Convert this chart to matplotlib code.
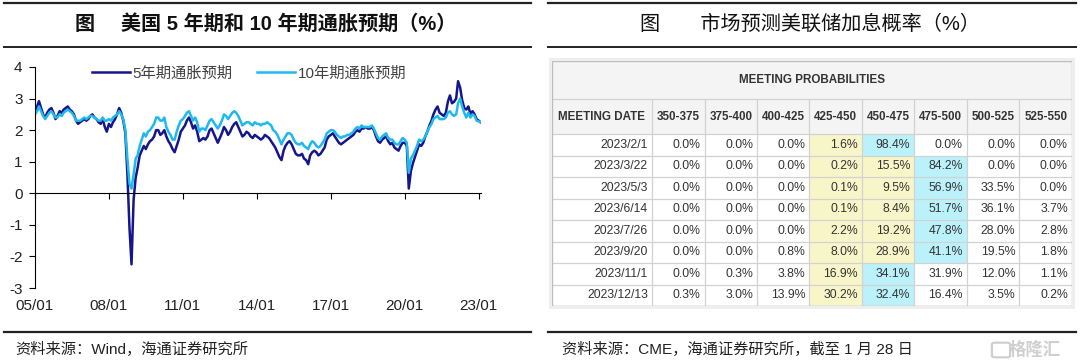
import numpy as np
import pandas as pd
import matplotlib
matplotlib.use('Agg')
import matplotlib.pyplot as plt
import matplotlib.dates as mdates
from matplotlib.patches import Rectangle, FancyBboxPatch
from matplotlib.lines import Line2D

plt.rcParams['font.family'] = ['Liberation Sans', 'Noto Sans CJK SC', 'DejaVu Sans']
plt.rcParams['axes.unicode_minus'] = False

# ---- left chart: US 5y / 10y breakeven inflation (monthly readings, %) ----
be5 = [
    2.60, 2.75, 2.92, 2.70, 2.50, 2.40, 2.55, 2.65, 2.70, 2.55, 2.35, 2.45,  # 2005
    2.60, 2.55, 2.65, 2.70, 2.75, 2.65, 2.60, 2.50, 2.30, 2.20, 2.25, 2.30,  # 2006
    2.35, 2.30, 2.35, 2.45, 2.50, 2.40, 2.35, 2.25, 2.20, 2.35, 2.10, 1.95,  # 2007
    2.20, 2.10, 2.25, 2.35, 2.50, 2.70, 2.55, 2.30, 1.90, 0.60, -1.10, -2.25,  # 2008
    -0.20, 0.50, 0.80, 1.20, 1.35, 1.50, 1.40, 1.55, 1.65, 1.70, 1.80, 2.00,  # 2009
    2.00, 1.85, 1.90, 2.00, 1.80, 1.65, 1.55, 1.40, 1.30, 1.50, 1.70, 1.95,  # 2010
    2.05, 2.15, 2.30, 2.40, 2.25, 2.05, 2.15, 1.95, 1.65, 1.70, 1.75, 1.70,  # 2011
    1.80, 2.00, 2.05, 1.90, 1.75, 1.60, 1.75, 1.90, 2.10, 2.00, 1.85, 1.95,  # 2012
    2.10, 2.20, 2.25, 2.10, 1.95, 1.80, 1.85, 1.95, 1.90, 1.80, 1.75, 1.85,  # 2013
    1.80, 1.75, 1.70, 1.75, 1.85, 1.80, 1.75, 1.65, 1.55, 1.45, 1.30, 1.15,  # 2014
    1.05, 1.35, 1.50, 1.60, 1.65, 1.55, 1.40, 1.25, 1.20, 1.20, 1.25, 1.10,  # 2015
    1.05, 0.92, 1.20, 1.30, 1.35, 1.30, 1.20, 1.25, 1.35, 1.45, 1.70, 1.80,  # 2016
    1.85, 1.90, 1.80, 1.70, 1.60, 1.55, 1.60, 1.65, 1.70, 1.75, 1.80, 1.85,  # 2017
    1.95, 2.00, 1.95, 2.05, 2.05, 2.10, 2.05, 2.05, 2.10, 2.00, 1.80, 1.65,  # 2018
    1.60, 1.70, 1.75, 1.80, 1.65, 1.55, 1.60, 1.45, 1.40, 1.35, 1.50, 1.60,  # 2019
    1.60, 1.50, 0.15, 0.70, 0.95, 1.15, 1.35, 1.55, 1.50, 1.60, 1.80, 1.95,  # 2020
    2.15, 2.30, 2.50, 2.65, 2.75, 2.55, 2.50, 2.45, 2.55, 2.90, 3.10, 2.85,  # 2021
    2.90, 3.00, 3.55, 3.35, 2.95, 2.70, 2.65, 2.75, 2.50, 2.60, 2.50, 2.35,  # 2022
    2.30, 2.25,                                                              # 2023
]
be10 = [
    2.50, 2.60, 2.75, 2.60, 2.45, 2.35, 2.45, 2.55, 2.60, 2.50, 2.40, 2.40,
    2.50, 2.45, 2.55, 2.60, 2.65, 2.60, 2.55, 2.45, 2.30, 2.30, 2.30, 2.35,
    2.40, 2.35, 2.40, 2.45, 2.45, 2.40, 2.35, 2.30, 2.30, 2.40, 2.30, 2.30,
    2.35, 2.30, 2.40, 2.45, 2.50, 2.60, 2.50, 2.35, 2.00, 1.10, 0.30, 0.15,
    0.60, 1.10, 1.20, 1.50, 1.70, 1.90, 1.80, 1.95, 2.00, 2.10, 2.20, 2.40,
    2.40, 2.30, 2.30, 2.40, 2.10, 1.95, 1.85, 1.70, 1.70, 1.95, 2.15, 2.30,
    2.35, 2.45, 2.55, 2.60, 2.45, 2.30, 2.40, 2.25, 1.95, 2.05, 2.05, 2.00,
    2.15, 2.30, 2.35, 2.25, 2.15, 2.05, 2.15, 2.30, 2.50, 2.45, 2.35, 2.45,
    2.55, 2.60, 2.55, 2.45, 2.30, 2.15, 2.20, 2.25, 2.25, 2.20, 2.15, 2.25,
    2.20, 2.20, 2.15, 2.20, 2.20, 2.25, 2.20, 2.15, 2.00, 1.95, 1.85, 1.70,
    1.55, 1.70, 1.80, 1.90, 1.90, 1.85, 1.70, 1.60, 1.55, 1.55, 1.60, 1.50,
    1.45, 1.40, 1.55, 1.65, 1.60, 1.50, 1.45, 1.50, 1.60, 1.70, 1.90, 1.95,
    2.00, 2.00, 1.95, 1.85, 1.80, 1.75, 1.80, 1.80, 1.85, 1.85, 1.90, 1.95,
    2.05, 2.10, 2.05, 2.15, 2.10, 2.10, 2.10, 2.10, 2.15, 2.05, 1.90, 1.75,
    1.70, 1.80, 1.85, 1.90, 1.75, 1.70, 1.70, 1.60, 1.55, 1.55, 1.65, 1.75,
    1.70, 1.60, 0.65, 1.10, 1.20, 1.35, 1.50, 1.70, 1.65, 1.70, 1.80, 1.95,
    2.10, 2.20, 2.35, 2.40, 2.45, 2.35, 2.35, 2.35, 2.40, 2.55, 2.60, 2.50,
    2.45, 2.50, 2.85, 3.00, 2.75, 2.55, 2.40, 2.55, 2.40, 2.50, 2.45, 2.30,
    2.28, 2.25,
]
dates = list(pd.date_range('2005-01-01', '2023-01-01', freq='MS')) + [pd.Timestamp('2023-01-27')]
tick_dates = ['2005-01-01', '2008-01-01', '2011-01-01', '2014-01-01',
              '2017-01-01', '2020-01-01', '2023-01-01']
tick_labels = ['05/01', '08/01', '11/01', '14/01', '17/01', '20/01', '23/01']

# ---- right table: CME meeting probabilities ----
meeting_dates = ['2023/2/1', '2023/3/22', '2023/5/3', '2023/6/14',
                 '2023/7/26', '2023/9/20', '2023/11/1', '2023/12/13']
rate_ranges = ['350-375', '375-400', '400-425', '425-450',
               '450-475', '475-500', '500-525', '525-550']
probs = [
    [0.0, 0.0, 0.0, 1.6, 98.4, 0.0, 0.0, 0.0],
    [0.0, 0.0, 0.0, 0.2, 15.5, 84.2, 0.0, 0.0],
    [0.0, 0.0, 0.0, 0.1, 9.5, 56.9, 33.5, 0.0],
    [0.0, 0.0, 0.0, 0.1, 8.4, 51.7, 36.1, 3.7],
    [0.0, 0.0, 0.0, 2.2, 19.2, 47.8, 28.0, 2.8],
    [0.0, 0.0, 0.8, 8.0, 28.9, 41.1, 19.5, 1.8],
    [0.0, 0.3, 3.8, 16.9, 34.1, 31.9, 12.0, 1.1],
    [0.3, 3.0, 13.9, 30.2, 32.4, 16.4, 3.5, 0.2],
]
current_range = '425-450'

W, H = 1080, 360
fig = plt.figure(figsize=(W / 100, H / 100), dpi=100)


def fx(px):
    return px / W


def fy(py):
    return 1 - py / H


def rule(x0, x1, y, lw=1.4):
    fig.add_artist(Line2D([fx(x0), fx(x1)], [fy(y), fy(y)], color='#222222',
                          lw=lw, transform=fig.transFigure))


# panel frames (rules above/below titles and above sources)
for x0, x1 in [(4, 531), (548, 1076)]:
    rule(x0, x1, 3, 1.6)
    rule(x0, x1, 47, 1.4)
    rule(x0, x1, 332, 1.6)

fig.text(fx(266), fy(24), '图\u3000 美国 5 年期和 10 年期通胀预期（%）',
         ha='center', va='center', fontsize=14.5, fontweight='bold', color='#111111')
fig.text(fx(810), fy(24), '图\u3000\u3000市场预测美联储加息概率（%）',
         ha='center', va='center', fontsize=14.5, fontweight='medium', color='#111111')
fig.text(fx(15), fy(349), '资料来源：Wind，海通证券研究所',
         ha='left', va='center', fontsize=11, color='#222222')
fig.text(fx(562), fy(349), '资料来源：CME，海通证券研究所，截至 1 月 28 日',
         ha='left', va='center', fontsize=11, color='#222222')
fig.add_artist(FancyBboxPatch((fx(993), fy(357)), fx(16), 14 / H,
                              boxstyle='round,pad=0.001,rounding_size=0.004',
                              transform=fig.transFigure, facecolor='none',
                              edgecolor='#cfcfcf', lw=1.6))
fig.text(fx(1035), fy(349), '格隆汇', ha='center', va='center',
         fontsize=12.5, fontweight='bold', color='#cfcfcf')

# ---- line chart ----
x = mdates.date2num(dates)
tx = mdates.date2num(pd.to_datetime(tick_dates))
ax = fig.add_axes([fx(35), fy(288), fx(481) - fx(35), fy(67) - fy(288)])
ax.plot(x, be5, color='#15158C', lw=1.8, label='5年期通胀预期')
ax.plot(x, be10, color='#1DB9EF', lw=1.8, label='10年期通胀预期')
ax.set_xlim(mdates.date2num(pd.Timestamp('2005-01-01')),
            mdates.date2num(pd.Timestamp('2023-02-04')))
ax.set_ylim(-3, 4)
ax.set_yticks(range(-3, 5))
for s in ['top', 'right']:
    ax.spines[s].set_visible(False)
ax.spines['bottom'].set_position(('data', 0))
ax.spines['left'].set_linewidth(0.8)
ax.spines['bottom'].set_linewidth(0.8)
ax.set_xticks(tx)
ax.tick_params(axis='x', direction='out', length=4, width=0.8, labelbottom=False)
ax.tick_params(axis='y', direction='out', length=4, width=0.8, labelsize=11,
               pad=5, labelcolor='#222222')

secax = ax.secondary_xaxis('bottom')
secax.set_xticks(tx, labels=tick_labels)
secax.tick_params(length=0, pad=8, labelsize=11, labelcolor='#222222')
secax.spines['bottom'].set_visible(False)

leg = ax.legend(loc='upper center', bbox_to_anchor=(0.48, 1.065), ncol=2,
                frameon=False, fontsize=11, handlelength=2.5,
                handletextpad=0.15, columnspacing=1.6)
for t in leg.get_texts():
    t.set_color('#404040')

# ---- table ----
tw, th = 520, 245
tax = fig.add_axes([fx(552), fy(306), tw / W, th / H])
tax.set_xlim(0, tw)
tax.set_ylim(th, 0)
tax.axis('off')

col_w = [100] + [52.5] * len(rate_ranges)
col_edges = np.concatenate([[0], np.cumsum(col_w)])
head1, head2, row_h = 38, 35, 21.5
row_edges = head1 + head2 + row_h * np.arange(len(meeting_dates) + 1)
grid_c = '#d2d2d2'

tax.add_patch(Rectangle((-3, -3), tw + 6, th + 6, facecolor='#eeeeee',
                        edgecolor='none', clip_on=False, zorder=0))
tax.add_patch(Rectangle((0, 0), tw, head1 + head2, facecolor='#f4f4f4',
                        edgecolor='none', zorder=1))
tax.add_patch(Rectangle((0, head1 + head2), tw, th - head1 - head2,
                        facecolor='white', edgecolor='none', zorder=1))

cur = rate_ranges.index(current_range)
for i, row in enumerate(probs):
    top = row_edges[i]
    best = int(np.argmax(row))
    for j, v in enumerate(row):
        fc = None
        if j == best:
            fc = '#baf1fb'
        elif cur <= j < best:
            fc = '#f8f6c9'
        if fc:
            tax.add_patch(Rectangle((col_edges[j + 1], top), col_w[j + 1], row_h,
                                    facecolor=fc, edgecolor='none', zorder=2))
        tax.text(col_edges[j + 2] - 4, top + row_h / 2, f'{v:.1f}%',
                 ha='right', va='center', fontsize=8.8, color='#333333', zorder=4)
    tax.text(col_edges[1] - 4, top + row_h / 2, meeting_dates[i],
             ha='right', va='center', fontsize=8.8, color='#333333', zorder=4)

tax.text(tw / 2, head1 / 2, 'MEETING PROBABILITIES', ha='center', va='center',
         fontsize=8.4, fontweight='bold', color='#333333', zorder=4)
hdrs = ['MEETING DATE'] + rate_ranges
for j, h in enumerate(hdrs):
    tax.text((col_edges[j] + col_edges[j + 1]) / 2, head1 + head2 / 2, h,
             ha='center', va='center', fontsize=8.4, fontweight='bold',
             color='#333333', zorder=4)

tax.hlines([head1] + list(row_edges), 0, tw, color=grid_c, lw=0.9, zorder=3)
tax.vlines(col_edges[1:-1], head1, th, color=grid_c, lw=0.9, zorder=3)
tax.add_patch(Rectangle((0, 0), tw, th, facecolor='none', edgecolor='#bdbdbd',
                        lw=1.0, zorder=5))

fig.savefig('out.png', dpi=100)
